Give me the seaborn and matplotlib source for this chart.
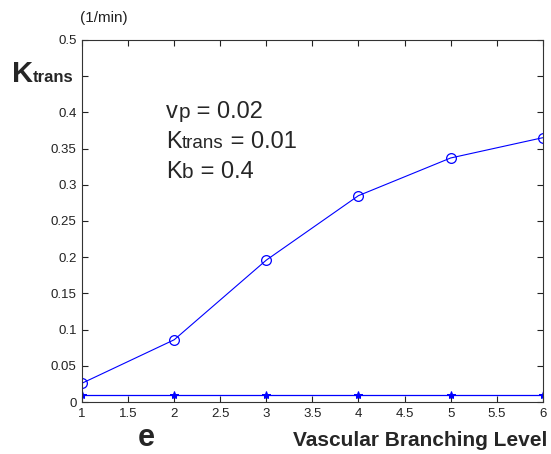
import numpy as np
import pandas as pd
import matplotlib
matplotlib.use('Agg')
import matplotlib.pyplot as plt
import seaborn as sns
from matplotlib.offsetbox import TextArea, HPacker, VPacker, AnnotationBbox

# values
level = [1, 2, 3, 4, 5, 6]
ktrans_est = [0.026, 0.086, 0.196, 0.285, 0.337, 0.365]
ktrans_true = [0.01, 0.01, 0.01, 0.01, 0.01, 0.01]
xtick_labels = ['1', '1.5', '2', '2.5', '3', '3.5', '4', '4.5', '5', '5.5', '6']
ytick_labels = ['0', '0.05', '0.1', '0.15', '0.2', '0.25', '0.3', '0.35', '0.4', '', '0.5']

sns.set_style('ticks')
plt.rcParams['font.family'] = ['Liberation Sans', 'DejaVu Sans']

fig = plt.figure(figsize=(5.51, 4.54), dpi=100)
ax = fig.add_axes([0.149, 0.1145, 0.836, 0.7975])

df = pd.DataFrame({'level': level, 'est': ktrans_est, 'true': ktrans_true})
sns.lineplot(data=df, x='level', y='est', ax=ax, color='blue', lw=0.8,
             marker='o', markersize=7, markerfacecolor='none',
             markeredgecolor='blue', markeredgewidth=0.9)
sns.lineplot(data=df, x='level', y='true', ax=ax, color='blue', lw=0.9,
             marker='*', markersize=6, markeredgecolor='blue', markerfacecolor='blue')

ax.set_xlim(1, 6)
ax.set_ylim(0, 0.5)
ax.set_xticks(np.arange(1, 6.01, 0.5))
ax.set_xticklabels(xtick_labels)
ax.set_yticks(np.arange(0, 0.501, 0.05))
ax.set_yticklabels(ytick_labels)
ax.tick_params(direction='in', top=True, right=True, length=4, width=0.8,
               labelsize=9.5, colors='#222222', pad=4)
for s in ax.spines.values():
    s.set_linewidth(0.8)
    s.set_color('#333333')
ax.set_xlabel('')
ax.set_ylabel('')

def sub_label(big, small, bsize, ssize, weight='normal'):
    return HPacker(children=[TextArea(big, textprops=dict(size=bsize, weight=weight)),
                             TextArea(small, textprops=dict(size=ssize, weight=weight))],
                   align='baseline', pad=0, sep=0)

# y label "Ktrans"
ylab = sub_label('K', 'trans', 21, 12, weight='bold')
fig.add_artist(AnnotationBbox(ylab, (0.022, 0.838), xycoords='figure fraction',
                              box_alignment=(0, 0.5), frameon=False, pad=0))
fig.text(0.145, 0.96, '(1/min)', fontsize=11, color='#222222', ha='left', va='center')

# x labels
fig.text(0.265, 0.035, 'e', fontsize=22, weight='bold', ha='center', va='center')
fig.text(0.993, 0.03, 'Vascular Branching Level', fontsize=15, weight='bold',
         ha='right', va='center')

# parameter annotations
def param_row(big, small, ssize, value):
    return HPacker(children=[sub_label(big, small, 17, ssize),
                             TextArea(value, textprops=dict(size=17))],
                   align='baseline', pad=0, sep=0)

rows = [param_row('v', 'p', 15, ' = 0.02'),
        param_row('K', 'trans', 13.5, ' = 0.01'),
        param_row('K', 'b', 15, ' = 0.4')]
box = VPacker(children=rows, align='left', pad=0, sep=6)
fig.add_artist(AnnotationBbox(box, (0.302, 0.778), xycoords='figure fraction',
                              box_alignment=(0, 1), frameon=False, pad=0))

fig.savefig('out.png', dpi=100)
